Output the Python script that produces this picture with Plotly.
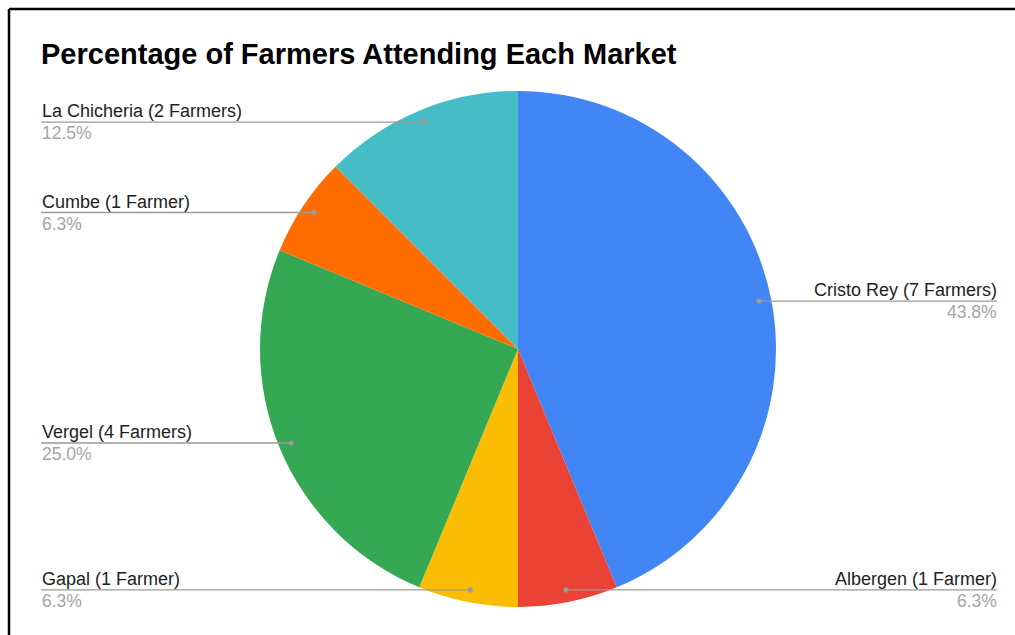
import math
from decimal import Decimal, ROUND_HALF_UP
import plotly.graph_objects as go

# ---- data ----
markets = ["Cristo Rey", "Albergen", "Gapal", "Vergel", "Cumbe", "La Chicheria"]
farmers = [7, 1, 1, 4, 1, 2]
colors = ["#4285F4", "#EA4335", "#FBBC04", "#34A853", "#FF6D01", "#46BDC6"]
title_text = "Percentage of Farmers Attending Each Market"

# ---- layout constants (pixels, page coordinates) ----
W, H = 1015, 635
CX, CY, R = 518, 349, 258
DOT_R = 0.952 * R
LINE_L, LINE_R = 41, 997
TEXT_L, TEXT_R = 40, 999
FONT = "Arial, 'Liberation Sans', sans-serif"

def px(x):
    return x / W

def py(y):
    return 1 - y / H

def fmt_pct(p):
    return str(Decimal(str(p)).quantize(Decimal("0.1"), rounding=ROUND_HALF_UP)) + "%"

fig = go.Figure()
fig.add_trace(go.Pie(
    labels=markets, values=farmers, sort=False, direction="clockwise", rotation=0,
    marker=dict(colors=colors, line=dict(width=0)),
    textinfo="none", hoverinfo="label+percent", showlegend=False,
    domain=dict(x=[px(CX - R), px(CX + R)], y=[py(CY + R), py(CY - R)]),
))

total = sum(farmers)
shapes = []
annotations = []
cum = 0
for name, v in zip(markets, farmers):
    mid = (cum + v / 2) / total * 2 * math.pi
    cum += v
    dx = CX + DOT_R * math.sin(mid)
    dy = CY - DOT_R * math.cos(mid)
    pct = v / total * 100
    unit = "Farmer" if v == 1 else "Farmers"
    label = f"{name} ({v} {unit})"
    left = math.sin(mid) < 0
    x0 = LINE_L if left else dx
    x1 = dx if left else LINE_R
    shapes.append(dict(type="line", xref="paper", yref="paper",
                       x0=px(x0), x1=px(x1), y0=py(dy), y1=py(dy),
                       line=dict(color="#9a9a9a", width=1.4)))
    shapes.append(dict(type="circle", xref="paper", yref="paper",
                       x0=px(dx - 2.6), x1=px(dx + 2.6), y0=py(dy + 2.6), y1=py(dy - 2.6),
                       fillcolor="#9a9a9a", line=dict(width=0)))
    tx = TEXT_L if left else TEXT_R
    anchor = "left" if left else "right"
    annotations.append(dict(xref="paper", yref="paper", x=px(tx), y=py(dy - 11),
                            text=label, showarrow=False, xanchor=anchor, yanchor="middle",
                            font=dict(family=FONT, size=18, color="#222222")))
    annotations.append(dict(xref="paper", yref="paper", x=px(tx), y=py(dy + 11),
                            text=fmt_pct(pct), showarrow=False, xanchor=anchor, yanchor="middle",
                            font=dict(family=FONT, size=17.5, color="#a4a4a4")))

# title
annotations.append(dict(xref="paper", yref="paper", x=px(39), y=py(54), text=f"<b>{title_text}</b>",
                        showarrow=False, xanchor="left", yanchor="middle",
                        font=dict(family=FONT, size=29, color="#000000")))

# frame border (top and left edges visible)
shapes.append(dict(type="line", xref="paper", yref="paper",
                   x0=px(9), x1=1.0, y0=py(9), y1=py(9),
                   line=dict(color="#000000", width=2.5)))
shapes.append(dict(type="line", xref="paper", yref="paper",
                   x0=px(9), x1=px(9), y0=py(9), y1=0.0,
                   line=dict(color="#000000", width=2.5)))

fig.update_layout(
    width=W, height=H, margin=dict(l=0, r=0, t=0, b=0),
    paper_bgcolor="white", plot_bgcolor="white",
    shapes=shapes, annotations=annotations,
)

fig.write_html(
    "out.html",
    config={"displayModeBar": False},
    post_script="document.body.style.margin='0';document.body.style.overflow='hidden';",
)
